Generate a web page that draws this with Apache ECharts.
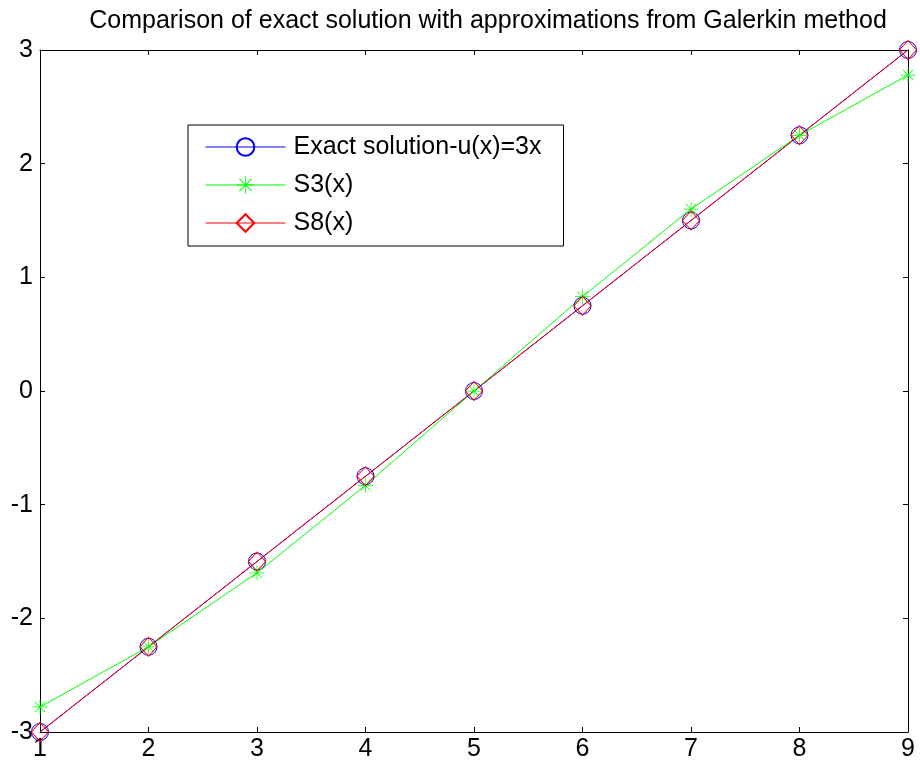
<!DOCTYPE html>
<html>
<head>
<meta charset="utf-8">
<script src="https://cdn.jsdelivr.net/npm/echarts@6/dist/echarts.min.js"></script>
<style>html,body{margin:0;padding:0;background:#fff}#c{width:920px;height:770px}</style>
</head>
<body>
<div id="c"></div>
<script>
const xValues = [1, 2, 3, 4, 5, 6, 7, 8, 9];
const exactValues = [-3, -2.25, -1.5, -0.75, 0, 0.75, 1.5, 2.25, 3];
const s3Values = [-2.78, -2.25, -1.6, -0.83, 0, 0.83, 1.6, 2.25, 2.78];
const s8Values = [-3, -2.25, -1.5, -0.75, 0, 0.75, 1.5, 2.25, 3];
const seriesNames = ['Exact solution-u(x)=3x', 'S3(x)', 'S8(x)'];
const titleText = 'Comparison of exact solution with approximations from Galerkin method';

const pair = (ys) => xValues.map((x, i) => [x, ys[i]]);
const starPath = 'path://M9.5 0L10.5 0L10.5 20L9.5 20Z M0 9.5L20 9.5L20 10.5L0 10.5Z M3.4 2.7L17.3 16.6L16.6 17.3L2.7 3.4Z M16.6 2.7L17.3 3.4L3.4 17.3L2.7 16.6Z';
const font = 'Liberation Sans, Arial, Helvetica, sans-serif';

const chart = echarts.init(document.getElementById('c'), null, {renderer: 'canvas'});
const tickStyle = {show: true, inside: true, length: 5, lineStyle: {color: '#000'}};
const lineStyleAxis = {show: true, onZero: false, lineStyle: {color: '#000', width: 1}};
chart.setOption({
  animation: false,
  backgroundColor: '#fff',
  title: {
    text: titleText, left: 483, top: 4, textAlign: 'center',
    textStyle: {fontFamily: font, fontSize: 25, fontWeight: 'normal', color: '#000'}
  },
  grid: {left: 40, right: 12, top: 50, bottom: 38, containLabel: false},
  legend: {
    orient: 'vertical', left: 188, top: 125,
    backgroundColor: '#fff', borderColor: '#000', borderWidth: 1,
    padding: [9, 22, 10, 17], itemGap: 12, itemWidth: 80, itemHeight: 22,
    lineStyle: {width: 1},
    textStyle: {fontFamily: font, fontSize: 25, lineHeight: 26, color: '#000', padding: [0, 0, 0, 3]},
    data: seriesNames
  },
  xAxis: [
    {
      type: 'value', min: 1, max: 9, interval: 1, position: 'bottom',
      axisLine: lineStyleAxis, axisTick: tickStyle, splitLine: {show: false},
      axisLabel: {show: true, fontFamily: font, fontSize: 25, color: '#000', margin: 5}
    },
    {
      type: 'value', min: 1, max: 9, interval: 1, position: 'top',
      axisLine: lineStyleAxis, axisTick: tickStyle, splitLine: {show: false},
      axisLabel: {show: false}
    }
  ],
  yAxis: [
    {
      type: 'value', min: -3, max: 3, interval: 1, position: 'left',
      axisLine: lineStyleAxis, axisTick: tickStyle, splitLine: {show: false},
      axisLabel: {show: true, fontFamily: font, fontSize: 25, color: '#000', margin: 7}
    },
    {
      type: 'value', min: -3, max: 3, interval: 1, position: 'right',
      axisLine: lineStyleAxis, axisTick: tickStyle, splitLine: {show: false},
      axisLabel: {show: false}
    }
  ],
  series: [
    {
      name: seriesNames[0], type: 'line', data: pair(exactValues),
      symbol: 'circle', symbolSize: 17, showAllSymbol: true,
      lineStyle: {color: '#0000ff', width: 1},
      itemStyle: {color: 'rgba(0,0,0,0)', borderColor: '#0000ff', borderWidth: 1},
      emphasis: {disabled: true}
    },
    {
      name: seriesNames[1], type: 'line', data: pair(s3Values),
      symbol: starPath, symbolSize: 15, showAllSymbol: true,
      lineStyle: {color: '#00ff00', width: 1},
      itemStyle: {color: '#00ff00'},
      emphasis: {disabled: true}
    },
    {
      name: seriesNames[2], type: 'line', data: pair(s8Values),
      symbol: 'diamond', symbolSize: [17, 19], showAllSymbol: true,
      lineStyle: {color: '#ff0000', width: 1},
      itemStyle: {color: 'rgba(0,0,0,0)', borderColor: '#ff0000', borderWidth: 1},
      emphasis: {disabled: true}
    }
  ]
});
</script>
</body>
</html>
